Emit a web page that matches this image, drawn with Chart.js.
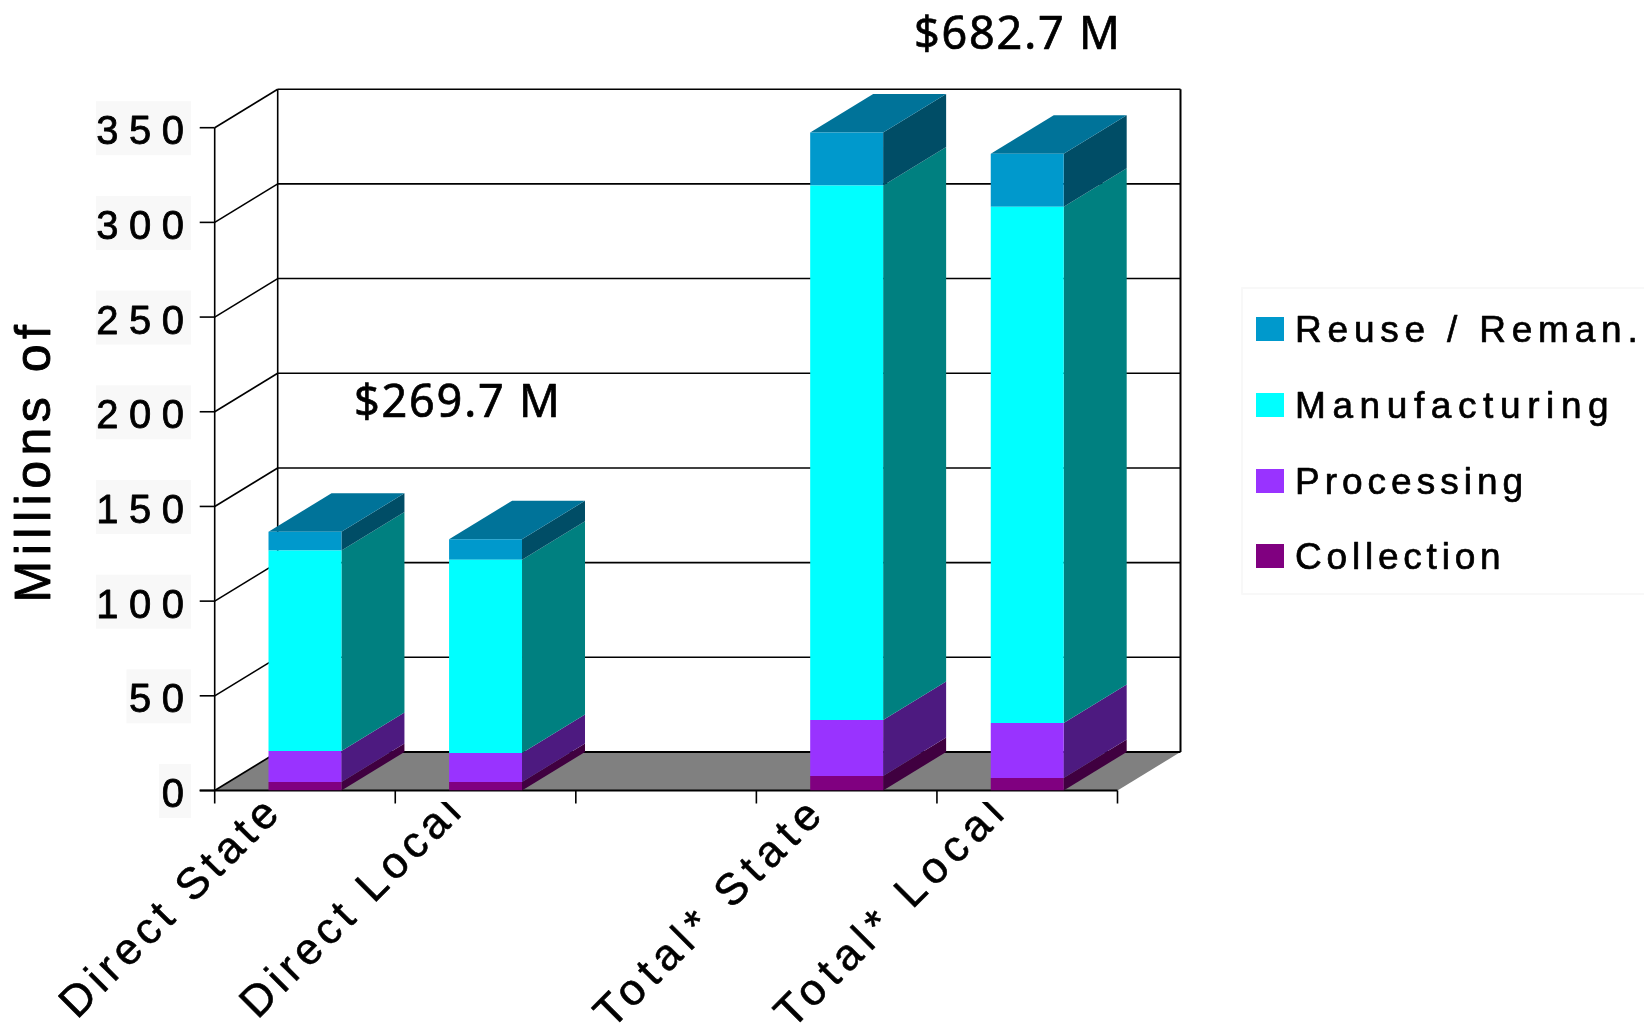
<!DOCTYPE html>
<html>
<head>
<meta charset="utf-8">
<style>html,body{margin:0;padding:0;background:#fff}canvas{display:block}</style>
<script src="https://cdn.jsdelivr.net/npm/chart.js@4"></script>
</head>
<body>
<canvas id="c" width="1644" height="1024"></canvas>
<script>
const categories = ["Direct State", "Direct Local", "", "Total* State", "Total* Local"];
const collection = [4.5, 4.5, null, 7.7, 6.6];
const processing = [16.4, 15.3, null, 29.5, 29.1];
const manufacturing = [105.8, 102.1, null, 282.3, 272.5];
const reuse = [9.9, 10.8, null, 28, 28.1];
const yTicks = [0, 50, 100, 150, 200, 250, 300, 350];
const legendLabels = ["Reuse / Reman.", "Manufacturing", "Processing", "Collection"];
const annotationTexts = ["$269.7 M", "$682.7 M"];
const yTitle = "Millions of";

const DX = 63, DY = 38.5;
const FONT = '"Liberation Sans", Arial, sans-serif';
const styles = [
  {front:"#800080", side:"#400040", top:"#600060"},
  {front:"#9933FF", side:"#4D1A80", top:"#7326BF"},
  {front:"#00FFFF", side:"#008080", top:"#00BFBF"},
  {front:"#0099CC", side:"#004D66", top:"#007399"}
];
const legendOrder = [3, 2, 1, 0];
const legendSpacing = [5.8, 6.6, 5, 4.8];

function line(ctx, x1, y1, x2, y2, w) {
  ctx.lineWidth = w || 1.6;
  ctx.beginPath(); ctx.moveTo(x1, y1); ctx.lineTo(x2, y2); ctx.stroke();
}
function poly(ctx, pts, fill) {
  ctx.fillStyle = fill;
  ctx.beginPath();
  pts.forEach((p, i) => i ? ctx.lineTo(p[0], p[1]) : ctx.moveTo(p[0], p[1]));
  ctx.closePath(); ctx.fill();
}
function text(ctx, s, x, y, font, spacing, align, weight) {
  ctx.font = font;
  ctx.letterSpacing = spacing + "px";
  ctx.textAlign = align || "left";
  ctx.textBaseline = "alphabetic";
  ctx.fillStyle = "#000";
  ctx.fillText(s, x, y);
  if (weight) {
    ctx.strokeStyle = "#000";
    ctx.lineWidth = weight;
    ctx.lineJoin = "round";
    ctx.strokeText(s, x, y);
  }
  ctx.letterSpacing = "0px";
}

const threeD = {
  id: "threeD",
  beforeDatasetsDraw(chart) {
    const ctx = chart.ctx, a = chart.chartArea, ys = chart.scales.y;
    ctx.save();
    poly(ctx, [[a.left, a.bottom], [a.right, a.bottom], [a.right + DX, a.bottom - DY], [a.left + DX, a.bottom - DY]], "#808080");
    ctx.strokeStyle = "#000";
    yTicks.forEach(v => {
      const y = ys.getPixelForValue(v);
      line(ctx, a.left - 15, y, a.left, y);
      line(ctx, a.left, y, a.left + DX, y - DY);
      line(ctx, a.left + DX, y - DY, a.right + DX, y - DY, v === 0 ? 2 : 1.6);
    });
    line(ctx, a.left, a.top, a.left, a.bottom);
    line(ctx, a.left + DX, a.top - DY, a.left + DX, a.bottom - DY);
    line(ctx, a.right + DX, a.top - DY, a.right + DX, a.bottom - DY, 2);
    line(ctx, a.left - 15, a.bottom, a.right, a.bottom, 2);
    const step = (a.right - a.left) / categories.length;
    for (let i = 0; i <= categories.length; i++) {
      const x = a.left + i * step;
      line(ctx, x, a.bottom, x, a.bottom + 13);
    }
    chart.data.datasets.forEach((ds, d) => {
      chart.getDatasetMeta(d).data.forEach((el, j) => {
        if (ds.data[j] == null) return;
        const r = el.x + el.width / 2, l = el.x - el.width / 2;
        poly(ctx, [[r, el.base], [r + DX, el.base - DY], [r + DX, el.y - DY], [r, el.y]], styles[d].side);
        if (d === chart.data.datasets.length - 1) {
          poly(ctx, [[l, el.y], [r, el.y], [r + DX, el.y - DY], [l + DX, el.y - DY]], styles[d].top);
        }
      });
    });
    ctx.restore();
  },
  afterDraw(chart) {
    const ctx = chart.ctx, ys = chart.scales.y, xs = chart.scales.x;
    ctx.save();
    // y tick labels on pale boxes
    yTicks.forEach(v => {
      const y = ys.getPixelForValue(v), s = String(v);
      const w = s.length === 3 ? 95 : s.length === 2 ? 64.5 : 32;
      ctx.fillStyle = "#F8F8F8";
      ctx.fillRect(191 - w, y - 26.5, w, 54);
      text(ctx, s, 194.5, y + 16.5, "40px " + FONT, 10.5, "right", 0.8);
    });
    // y title
    ctx.save();
    ctx.translate(50, 461);
    ctx.rotate(-Math.PI / 2);
    text(ctx, yTitle, 0, 0, "50px " + FONT, 5.5, "center", 0.9);
    ctx.restore();
    // x labels, clipped just below the tick marks
    ctx.save();
    ctx.beginPath();
    ctx.rect(0, 802, 1644, 222);
    ctx.clip();
    categories.forEach((s, i) => {
      if (!s) return;
      const cx = xs.getPixelForValue(i);
      const total = s.startsWith("Total");
      ctx.save();
      ctx.translate(cx - (total ? 235 : 228), total ? 1030 : 1020);
      ctx.rotate(-Math.PI / 4);
      text(ctx, s, 0, 0, "44px " + FONT, total ? 6.8 : 5.3, "left", 0.6);
      ctx.restore();
    });
    ctx.restore();
    // annotations
    text(ctx, annotationTexts[0], 354, 417, '45px "Noto Sans"', 1.8, "left", 0.7);
    text(ctx, annotationTexts[1], 914, 49, '45px "Noto Sans"', 1.8, "left", 0.7);
    // legend
    ctx.strokeStyle = "#F8F8F8";
    ctx.lineWidth = 2;
    ctx.strokeRect(1242, 288, 420, 306);
    const swatchY = [317, 393, 469, 544];
    legendOrder.forEach((d, i) => {
      ctx.fillStyle = styles[d].front;
      ctx.fillRect(1256, swatchY[i], 28, 24);
      text(ctx, legendLabels[i], 1295, swatchY[i] + 24.5, "37px " + FONT, legendSpacing[i], "left", 0.7);
    });
    ctx.restore();
  }
};

const names = ["Collection", "Processing", "Manufacturing", "Reuse / Reman."];
const series = [collection, processing, manufacturing, reuse];

new Chart(document.getElementById("c"), {
  type: "bar",
  data: {
    labels: categories,
    datasets: series.map((vals, i) => ({
      label: names[i],
      data: vals,
      backgroundColor: styles[i].front,
      borderWidth: 0,
      categoryPercentage: 1,
      barPercentage: 0.404
    }))
  },
  options: {
    responsive: false,
    animation: false,
    layout: { padding: { left: 214.7, right: 526.5, top: 127.7, bottom: 233.5 } },
    plugins: { legend: { display: false }, tooltip: { enabled: false } },
    scales: {
      x: { display: false, stacked: true, offset: true },
      y: { display: false, stacked: true, min: 0, max: 350 }
    }
  },
  plugins: [threeD]
});
</script>
</body>
</html>
